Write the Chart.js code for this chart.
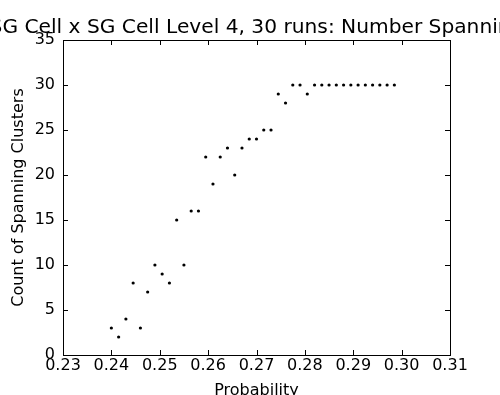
<!DOCTYPE html>
<html>
<head>
<meta charset="utf-8">
<script src="https://cdn.jsdelivr.net/npm/chart.js@4/dist/chart.umd.min.js"></script>
<style>
    html, body { margin: 0; padding: 0; background: #fff; overflow: hidden; }
    #box { width: 500px; height: 395px; position: relative; }
</style>
</head>
<body>
<div id="box"><canvas id="grafico"></canvas></div>
<script>
// dati
const probabilita = [
    0.2400, 0.2415, 0.2430, 0.2445, 0.2460, 0.2475, 0.2490, 0.2505, 0.2520, 0.2535,
    0.2550, 0.2565, 0.2580, 0.2595, 0.2610, 0.2625, 0.2640, 0.2655, 0.2670, 0.2685,
    0.2700, 0.2715, 0.2730, 0.2745, 0.2760, 0.2775, 0.2790, 0.2805, 0.2820, 0.2835,
    0.2850, 0.2865, 0.2880, 0.2895, 0.2910, 0.2925, 0.2940, 0.2955, 0.2970, 0.2985
];
const conteggi = [
    3, 2, 4, 8, 3, 7, 10, 9, 8, 15,
    10, 16, 16, 22, 19, 22, 23, 20, 23, 24,
    24, 25, 25, 29, 28, 30, 30, 29, 30, 30,
    30, 30, 30, 30, 30, 30, 30, 30, 30, 30
];
const tickX = [0.23, 0.24, 0.25, 0.26, 0.27, 0.28, 0.29, 0.30, 0.31];
const tickY = [0, 5, 10, 15, 20, 25, 30, 35];
const titolo = 'SG Cell x SG Cell Level 4, 30 runs: Number Spanning';

const FONT = 'DejaVu Sans';

// cornice e tacche interne come in matplotlib
const cornice = {
    id: 'cornice',
    afterDraw(chart) {
        const ctx = chart.ctx;
        const a = chart.chartArea;
        const sx = chart.scales.x;
        const sy = chart.scales.y;
        ctx.save();
        ctx.strokeStyle = '#000';
        ctx.lineWidth = 1;
        ctx.beginPath();
        tickX.forEach(v => {
            const px = Math.round(sx.getPixelForValue(v)) + 0.5;
            ctx.moveTo(px, a.bottom); ctx.lineTo(px, a.bottom - 5);
            ctx.moveTo(px, a.top); ctx.lineTo(px, a.top + 5);
        });
        tickY.forEach(v => {
            const py = Math.round(sy.getPixelForValue(v)) + 0.5;
            ctx.moveTo(a.left, py); ctx.lineTo(a.left + 5, py);
            ctx.moveTo(a.right, py); ctx.lineTo(a.right - 5, py);
        });
        ctx.stroke();
        ctx.strokeRect(Math.round(a.left) + 0.5, Math.round(a.top) + 0.5,
            Math.round(a.right - a.left), Math.round(a.bottom - a.top));
        // titolo centrato sull'area del grafico
        ctx.fillStyle = '#000';
        ctx.font = '20.2px "' + FONT + '"';
        ctx.textAlign = 'center';
        ctx.textBaseline = 'alphabetic';
        ctx.fillText(titolo, (a.left + a.right) / 2, 33);
        ctx.restore();
    }
};

new Chart(document.getElementById('grafico'), {
    type: 'scatter',
    data: {
        datasets: [{
            data: probabilita.map((p, i) => ({ x: p, y: conteggi[i] })),
            backgroundColor: '#000',
            borderColor: '#000',
            pointRadius: 1.6,
            pointHoverRadius: 1.6,
            borderWidth: 0
        }]
    },
    options: {
        responsive: true,
        maintainAspectRatio: false,
        animation: false,
        devicePixelRatio: 1,
        layout: { padding: { top: 40, right: 50, left: 0, bottom: 0 } },
        plugins: {
            legend: { display: false },
            tooltip: { enabled: false },
            title: { display: false }
        },
        scales: {
            x: {
                type: 'linear',
                min: 0.23,
                max: 0.31,
                afterFit: s => { s.height = 40; },
                afterBuildTicks: s => { s.ticks = tickX.map(v => ({ value: v })); },
                grid: { display: false, drawTicks: false },
                border: { display: false },
                ticks: {
                    color: '#000',
                    padding: 1,
                    maxRotation: 0,
                    font: { family: FONT, size: 16 },
                    callback: v => v.toFixed(2)
                },
                title: {
                    display: true,
                    text: 'Probability',
                    color: '#000',
                    font: { family: FONT, size: 16 },
                    padding: { top: 0, bottom: -5 }
                }
            },
            y: {
                min: 0,
                max: 35,
                afterFit: s => { s.width = 63; },
                afterBuildTicks: s => { s.ticks = tickY.map(v => ({ value: v })); },
                grid: { display: false, drawTicks: false },
                border: { display: false },
                ticks: {
                    color: '#000',
                    padding: 8,
                    font: { family: FONT, size: 16 }
                },
                title: {
                    display: true,
                    text: 'Count of Spanning Clusters',
                    color: '#000',
                    font: { family: FONT, size: 16 },
                    padding: { top: 9, bottom: 0 }
                }
            }
        }
    },
    plugins: [cornice]
});
</script>
</body>
</html>
